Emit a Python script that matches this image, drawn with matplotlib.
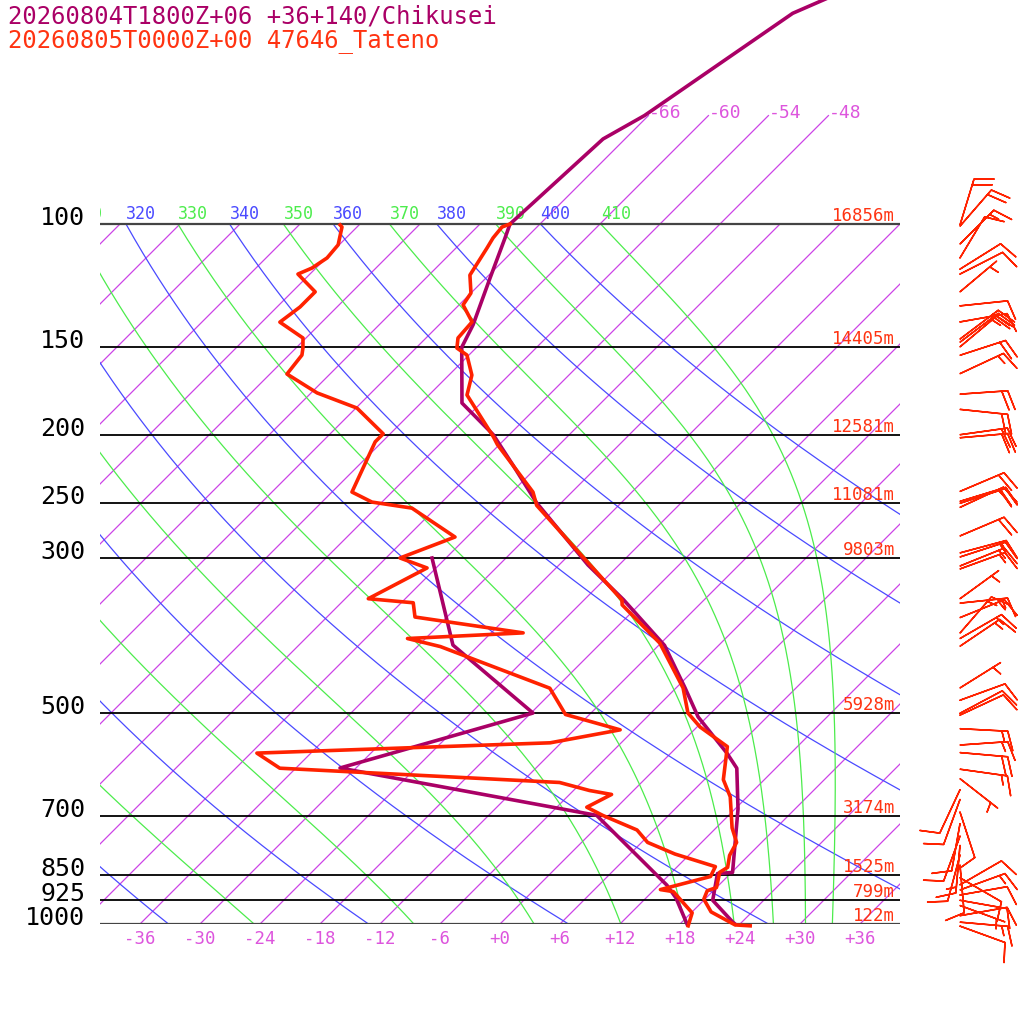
"""
Skew-T log-p sounding: Chikusei model profile vs Tateno radiosonde.
"""

import numpy as np
import matplotlib
matplotlib.use("Agg")
import matplotlib.pyplot as plt

FONT = "DejaVu Sans Mono"
PURPLE = "#aa0066"
RED = "#ff2200"
ISO_COLOR = "#cc44e6"
ISO_LABEL = "#dd55dd"
DRY_COLOR = "#4a4aff"
MOIST_COLOR = "#4cec4c"

TITLE_MODEL = "20260804T1800Z+06 +36+140/Chikusei"
TITLE_OBS = "20260805T0000Z+00 47646_Tateno"

# --- model (Chikusei) profile ---
model_p = [40, 50, 70, 75.6, 100, 104.7, 119.4, 139.4, 150, 180.2, 183.2, 200, 221, 250,
           307, 344, 400, 460, 506, 570, 599, 685, 844, 847, 925, 994, 1000]
model_t = [-53.0, -61.8, -66.4, -68.2, -69.0, -68.1, -65.6, -62.6, -61.5, -55.9, -54.9,
           -49.6, -44.6, -38.5, -27.1, -20.1, -11.4, -5.1, -0.9, 5.6, 8.1, 12.3, 18.1,
           16.7, 18.9, 23.1, 23.5]
model_td_p = [300, 399.5, 499.6, 598.6, 699.5, 880, 918, 1000]
model_td = [-43.4, -32.6, -17.8, -31.6, -1.2, 12.8, 15.0, 18.7]

# --- observed (Tateno) profile ---
obs_p = [100, 101, 104.7, 108.2, 118.3, 125.5, 130.5, 138, 145.5, 150.4, 153.9, 164.4,
         175.5, 201.3, 206.6, 241.5, 252.3, 306.9, 344.5, 350, 397, 460, 499.6, 523, 558,
         622, 658, 729, 764.6, 798, 830, 843.6, 887, 896.4, 921.6, 961, 1003, 1006]
obs_t = [-69.0, -69.5, -69.3, -68.9, -67.9, -66.0, -65.6, -63.0, -62.8, -61.9, -60.2,
         -57.7, -56.2, -49.4, -48.2, -39.9, -38.2, -26.9, -20.2, -19.7, -12.1, -5.3, -2.3,
         0.3, 5.0, 7.9, 10.3, 13.6, 15.5, 16.1, 17.1, 16.8, 18.0, 17.4, 17.9, 19.9, 23.6,
         25.2]
obs_td_p = [100.3, 101, 107.1, 111.8, 115.6, 117.9, 125, 131.4, 138.1, 145.5, 150.4,
            153.9, 163.8, 174.3, 183.2, 199.4, 204.7, 241.5, 249.6, 254.6, 280, 300, 310,
            343, 347.6, 364.3, 383.8, 391, 401.5, 460.4, 502, 528, 551, 570, 599, 627.8,
            644.6, 653, 681, 699.5, 734, 764.6, 794.4, 828, 855.4, 893, 899, 964, 1006]
obs_td = [-85.9, -85.5, -84.1, -83.9, -84.4, -85.2, -81.7, -81.7, -82.2, -78.3, -77.3,
          -76.7, -76.3, -71.4, -65.9, -60.7, -60.7, -58.0, -55.0, -50.4, -43.2, -46.6,
          -42.9, -45.7, -40.8, -39.2, -26.8, -37.8, -33.7, -18.6, -14.4, -7.4, -13.1,
          -41.4, -37.6, -8.2, -4.4, -1.8, -3.0, -0.6, 4.3, 6.6, 10.5, 15.8, 16.3, 12.6,
          14.1, 18.1, 19.0]

# observed winds: pressure (hPa), direction (deg), speed (kt)
wind_p = [100.3, 100.7, 106.8, 111.8, 116, 117.9, 125, 130.9, 138, 146, 147.5, 149.8, 154,
          163.6, 175, 184, 200, 202, 241, 249, 250.6, 254, 279, 295, 299, 308, 311, 343,
          348, 365, 384, 391, 401, 460, 479, 500, 503, 526, 555, 569, 601, 620, 643, 664,
          692, 719, 749, 772, 797, 824, 859, 879, 894, 909, 925, 941, 973, 994, 1007]
wind_dir = [17, 41, 45, 31, 58, 63, 50, 84, 80, 53, 53, 50, 72, 65, 86, 96, 82, 85, 67, 73,
            72, 65, 67, 75, 72, 68, 70, 54, 84, 68, 41, 60, 56, 58, 70, 62, 65, 93, 86, 95,
            98, 128, 205, 200, 162, 190, 200, 185, 195, 175, 120, 60, 70, 80, 100, 110, 80,
            95, 110]
wind_spd = [20, 20, 15, 10, 10, 10, 5, 10, 10, 20, 20, 15, 20, 15, 20, 20, 20, 20, 20, 20,
            20, 15, 20, 15, 15, 15, 15, 5, 15, 15, 15, 15, 15, 5, 10, 10, 10, 15, 15, 20,
            15, 5, 10, 10, 10, 10, 10, 15, 10, 10, 10, 10, 15, 10, 10, 5, 10, 15, 10]

std_levels = [100, 150, 200, 250, 300, 500, 700, 850, 925, 1000]
std_heights = ["16856m", "14405m", "12581m", "11081m", "9803m", "5928m", "3174m",
               "1525m", "799m", "122m"]
tick_temps = list(range(-36, 37, 6))
iso_temps = list(range(-114, 37, 6))
iso_upper = [-66, -60, -54, -48]
dry_thetas = list(range(240, 401, 20))
moist_thetas = list(range(250, 411, 20))

SKEW = 70.0 / np.log(10.0)
P_TOP = 100.0 * np.exp(-224.0 / 304.0)
RD, CP, LV, EPS = 287.04, 1005.7, 2.501e6, 0.622


def skew_x(t, p):
    return np.asarray(t, float) + SKEW * np.log(1000.0 / np.asarray(p, float))


def sat_mixing(tk, p):
    tc = tk - 273.15
    es = 6.112 * np.exp(17.67 * tc / (tc + 243.5))
    return EPS * es / (p - es)


def moist_lapse(tk, p):
    rs = sat_mixing(tk, p)
    return (RD * tk + LV * rs) / (p * (CP + LV * LV * rs * EPS / (RD * tk * tk)))


def theta_e_sat(tk, p=1000.0):
    r = sat_mixing(tk, p)
    return (tk * (1000.0 / p) ** (0.2854 * (1 - 0.28 * r))
            * np.exp((3.376 / tk - 0.00254) * r * 1000.0 * (1 + 0.81 * r)))


def start_temp(the):
    lo, hi = 200.0, 320.0
    for _ in range(60):
        mid = 0.5 * (lo + hi)
        if theta_e_sat(mid) < the:
            lo = mid
        else:
            hi = mid
    return 0.5 * (lo + hi)


def moist_adiabat(the, p):
    t = np.empty_like(p)
    t[0] = start_temp(the)
    for i in range(1, len(p)):
        h = p[i] - p[i - 1]
        k1 = moist_lapse(t[i - 1], p[i - 1])
        k2 = moist_lapse(t[i - 1] + 0.5 * h * k1, p[i - 1] + 0.5 * h)
        k3 = moist_lapse(t[i - 1] + 0.5 * h * k2, p[i - 1] + 0.5 * h)
        k4 = moist_lapse(t[i - 1] + h * k3, p[i])
        t[i] = t[i - 1] + h * (k1 + 2 * k2 + 2 * k3 + k4) / 6.0
    return t - 273.15


def label_top(ax, x, text, color):
    # skip labels that would fall entirely left of the diagram
    if x < -43.5 or x > 40:
        return
    ax.annotate(text, xy=(x, 100), xytext=(0, 5), textcoords="offset pixels",
                ha="left", va="baseline", color=color, fontsize=12, family=FONT,
                annotation_clip=False, clip_on=True)


def main():
    fig = plt.figure(figsize=(10.24, 10.24), dpi=100)
    ax = fig.add_axes([100 / 1024, 100 / 1024, 800 / 1024, 924 / 1024])
    ax.set_yscale("log")
    ax.set_xlim(-40, 40)
    ax.set_ylim(1000, P_TOP)
    ax.axis("off")

    p_bg = np.linspace(1000, 100, 361)

    # isotherms
    for t in iso_temps:
        top = 70 if t in iso_upper else 100
        pp = np.array([1000, top])
        ax.plot(skew_x([t, t], pp), pp, color=ISO_COLOR, lw=0.9, zorder=1)
    for t in iso_upper:
        ax.annotate(f"{t:d}", xy=(skew_x(t, 70), 70), xytext=(0, -2),
                    textcoords="offset pixels", ha="left", va="baseline",
                    color=ISO_LABEL, fontsize=13, family=FONT)

    # dry adiabats
    for th in dry_thetas:
        tt = th * (p_bg / 1000.0) ** 0.2857 - 273.15
        ax.plot(skew_x(tt, p_bg), p_bg, color=DRY_COLOR, lw=0.9, zorder=1)
        label_top(ax, float(skew_x(tt[-1], 100)), f"{th}", DRY_COLOR)

    # moist adiabats
    for th in moist_thetas:
        tt = moist_adiabat(th, p_bg)
        ax.plot(skew_x(tt, p_bg), p_bg, color=MOIST_COLOR, lw=0.9, zorder=1)
        label_top(ax, float(skew_x(tt[-1], 100)), f"{th}", MOIST_COLOR)

    # isobars, pressure and height labels
    for p, h in zip(std_levels, std_heights):
        edge = p in (100, 1000)
        ax.plot([-40, 40], [p, p], color="#444444" if edge else "black",
                lw=1.6 if edge else 1.3, zorder=2)
        ax.annotate(str(p), xy=(-40, p), xytext=(-15, -1), textcoords="offset pixels",
                    ha="right", va="baseline", fontsize=18, family=FONT,
                    annotation_clip=False)
        ax.annotate(h, xy=(40, p), xytext=(-5, 3), textcoords="offset pixels",
                    ha="right", va="baseline", fontsize=12.5, family=FONT, color="#ff3311",
                    annotation_clip=False)

    for t in tick_temps:
        ax.annotate(f"{t:+d}", xy=(t, 1000), xytext=(0, -6), textcoords="offset pixels",
                    ha="center", va="top", fontsize=12.5, family=FONT, color=ISO_LABEL,
                    annotation_clip=False)

    # profiles
    ax.plot(skew_x(model_t, model_p), model_p, color=PURPLE, lw=2.6, zorder=4, clip_on=False)
    ax.plot(skew_x(model_td, model_td_p), model_td_p, color=PURPLE, lw=2.6, zorder=4,
            clip_on=False)
    ax.plot(skew_x(obs_t, obs_p), obs_p, color=RED, lw=2.6, zorder=5, clip_on=False)
    ax.plot(skew_x(obs_td, obs_td_p), obs_td_p, color=RED, lw=2.6, zorder=5, clip_on=False)

    # wind barbs
    d = np.radians(wind_dir)
    s = np.asarray(wind_spd, float)
    u = -s * np.sin(d)
    v = -s * np.cos(d)
    bx = np.full(len(wind_p), 46.0)
    b = ax.barbs(bx, wind_p, u, v, length=8.3, color=RED, linewidth=1.1, zorder=5)
    b.set_clip_on(False)

    fig.text(8 / 1024, 1 - 17 / 1024, TITLE_MODEL, color=PURPLE, fontsize=17.2,
             family=FONT, va="center", ha="left")
    fig.text(8 / 1024, 1 - 41 / 1024, TITLE_OBS, color="#ff3311", fontsize=17.2,
             family=FONT, va="center", ha="left")

    fig.savefig("out.png", dpi=100, facecolor="white")


if __name__ == "__main__":
    main()
